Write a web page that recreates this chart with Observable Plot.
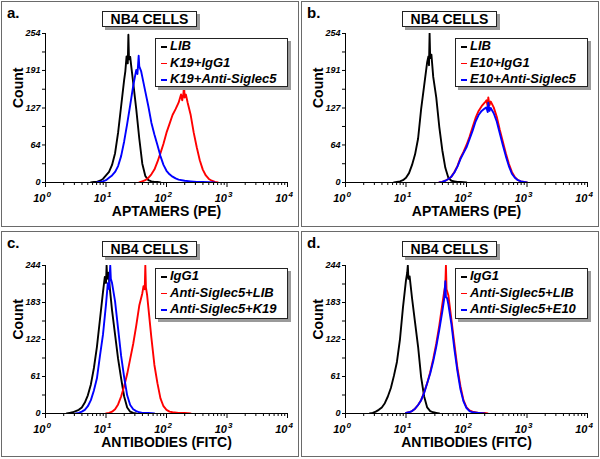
<!DOCTYPE html>
<html><head><meta charset="utf-8">
<script src="https://cdn.jsdelivr.net/npm/d3@7"></script>
<script src="https://cdn.jsdelivr.net/npm/@observablehq/plot@0.6"></script>
<style>
body{margin:0;background:#fff;font-family:"Liberation Sans",Arial,sans-serif;}
#root{position:relative;width:600px;height:459px;overflow:hidden;background:#fff;}
.panel{position:absolute;width:296px;height:224px;border:1px solid #6a6a6a;}
.panel svg{position:absolute;left:0;top:0;}
.tag{position:absolute;left:5px;top:2px;font:bold 15px "Liberation Sans",Arial,sans-serif;color:#000;}
.title{position:absolute;left:100px;top:9px;width:93px;height:14px;border:1px solid #222;box-shadow:3px 3px 0 #9a9a9a;background:#fff;font:bold 14px "Liberation Sans",Arial,sans-serif;text-align:center;line-height:15px;}
.legend{position:absolute;left:153px;top:36px;width:131px;height:47px;border:1px solid #222;box-shadow:3px 3px 0 #9a9a9a;background:#fff;}
.legend .row{position:relative;height:16.5px;line-height:16.5px;font:italic bold 13px "Liberation Sans",Arial,sans-serif;white-space:nowrap;padding-left:14px;}
.legend .row:first-child{margin-top:-1px;}
.legend .m{position:absolute;left:5px;top:8px;width:6px;height:1.5px;}
</style>
</head><body>
<div id="root"></div>
<script>
// ---- Data: [log10(fluorescence intensity), event count] ----
// Panel a (APTAMERS PE)
const aLIB = [[0.75,0],[0.80,1],[0.85,1],[0.90,3],[0.95,6],[1.00,12],[1.05,18],[1.10,30],[1.15,50],[1.20,85],[1.25,130],[1.30,175],[1.32,190],[1.34,215],[1.36,203],[1.37,252],[1.38,210],[1.40,214],[1.42,196],[1.45,170],[1.50,125],[1.55,75],[1.60,32],[1.65,11],[1.70,4],[1.75,2],[1.80,1],[1.85,1],[1.90,0]];
const aK19IgG1 = [[1.55,0],[1.60,2],[1.65,4],[1.70,8],[1.75,14],[1.80,22],[1.85,35],[1.90,50],[1.95,66],[2.00,85],[2.05,100],[2.10,115],[2.15,125],[2.20,136],[2.24,150],[2.26,140],[2.28,152],[2.29,166],[2.30,145],[2.32,150],[2.35,136],[2.40,115],[2.45,85],[2.50,60],[2.55,38],[2.60,22],[2.65,12],[2.70,6],[2.75,3],[2.80,1],[2.85,0]];
const aK19Siglec5 = [[0.85,0],[0.90,1],[0.95,2],[1.00,4],[1.05,8],[1.10,12],[1.15,18],[1.20,28],[1.25,45],[1.30,70],[1.35,100],[1.40,132],[1.45,165],[1.50,192],[1.52,185],[1.54,216],[1.55,198],[1.58,190],[1.60,180],[1.65,155],[1.70,130],[1.75,102],[1.80,82],[1.85,64],[1.90,45],[1.95,30],[2.00,20],[2.05,14],[2.10,10],[2.15,7],[2.20,5],[2.30,3],[2.40,2],[2.50,1],[2.60,1],[2.80,0]];
// Panel b (APTAMERS PE)
const bLIB = [[0.80,0],[0.85,1],[0.90,2],[0.95,4],[1.00,8],[1.05,16],[1.10,30],[1.15,48],[1.20,75],[1.25,125],[1.30,165],[1.35,205],[1.37,215],[1.38,200],[1.39,254],[1.40,212],[1.42,218],[1.45,180],[1.50,145],[1.55,95],[1.60,55],[1.65,25],[1.70,8],[1.75,3],[1.80,2],[1.85,1],[1.90,1],[2.00,0]];
const bE10IgG1 = [[1.55,0],[1.60,1],[1.65,3],[1.70,6],[1.75,10],[1.80,18],[1.85,28],[1.90,42],[1.95,52],[2.00,64],[2.05,78],[2.10,94],[2.15,110],[2.20,122],[2.25,130],[2.30,136],[2.33,140],[2.35,130],[2.36,145],[2.38,132],[2.40,138],[2.45,128],[2.50,112],[2.55,90],[2.60,70],[2.65,50],[2.70,32],[2.75,18],[2.80,9],[2.85,4],[2.90,2],[2.95,1],[3.00,0]];
const bE10Siglec5 = [[1.55,0],[1.60,1],[1.65,3],[1.70,6],[1.75,10],[1.80,17],[1.85,27],[1.90,40],[1.95,50],[2.00,60],[2.05,74],[2.10,88],[2.15,104],[2.20,115],[2.25,122],[2.30,126],[2.33,128],[2.35,120],[2.36,136],[2.38,122],[2.40,127],[2.45,118],[2.50,104],[2.55,84],[2.60,64],[2.65,45],[2.70,28],[2.75,15],[2.80,8],[2.85,4],[2.90,2],[2.95,1],[3.00,0]];
// Panel c (ANTIBODIES FITC)
const cIgG1 = [[0.35,0],[0.40,1],[0.45,2],[0.50,4],[0.55,6],[0.60,10],[0.65,18],[0.70,30],[0.75,48],[0.80,75],[0.85,110],[0.90,155],[0.95,200],[0.98,225],[1.00,215],[1.01,244],[1.02,222],[1.04,232],[1.06,210],[1.10,170],[1.15,130],[1.20,90],[1.25,58],[1.30,28],[1.35,10],[1.40,3],[1.45,1],[1.50,0]];
const cSiglec5LIB = [[1.00,0],[1.05,1],[1.10,3],[1.15,7],[1.20,15],[1.25,28],[1.30,45],[1.35,65],[1.40,90],[1.45,115],[1.50,145],[1.55,178],[1.60,198],[1.62,210],[1.64,205],[1.65,244],[1.66,208],[1.68,195],[1.70,175],[1.75,125],[1.80,80],[1.85,50],[1.90,25],[1.95,12],[2.00,6],[2.05,3],[2.10,2],[2.20,1],[2.30,1],[2.40,0]];
const cSiglec5K19 = [[0.50,0],[0.55,1],[0.60,3],[0.65,6],[0.70,12],[0.75,22],[0.80,38],[0.85,58],[0.90,95],[0.95,130],[1.00,180],[1.03,215],[1.05,205],[1.07,244],[1.08,222],[1.10,215],[1.15,185],[1.20,140],[1.25,95],[1.30,60],[1.35,30],[1.40,14],[1.45,7],[1.50,4],[1.55,2],[1.60,1],[1.70,1],[1.80,0]];
// Panel d (ANTIBODIES FITC)
const dIgG1 = [[0.40,0],[0.45,1],[0.50,3],[0.55,6],[0.60,10],[0.65,17],[0.70,28],[0.75,42],[0.80,62],[0.85,85],[0.90,122],[0.95,175],[1.00,220],[1.02,232],[1.03,244],[1.04,222],[1.06,226],[1.10,190],[1.15,150],[1.20,110],[1.25,60],[1.30,28],[1.35,10],[1.40,4],[1.45,2],[1.50,1],[1.55,0]];
const dSiglec5LIB = [[1.00,1],[1.05,2],[1.10,4],[1.15,8],[1.20,14],[1.25,22],[1.30,35],[1.35,50],[1.40,68],[1.45,90],[1.50,115],[1.55,145],[1.60,180],[1.63,200],[1.65,212],[1.66,244],[1.67,205],[1.70,195],[1.75,155],[1.80,115],[1.85,75],[1.90,45],[1.95,22],[2.00,10],[2.05,5],[2.10,3],[2.20,1],[2.30,1],[2.35,0]];
const dSiglec5E10 = [[1.00,1],[1.05,2],[1.10,4],[1.15,8],[1.20,14],[1.25,22],[1.30,34],[1.35,50],[1.40,66],[1.45,86],[1.50,110],[1.55,138],[1.60,168],[1.63,188],[1.65,218],[1.66,192],[1.68,190],[1.70,180],[1.75,148],[1.80,106],[1.85,70],[1.90,40],[1.95,20],[2.00,9],[2.05,4],[2.10,2],[2.20,1],[2.30,0]];

// Labels and ticks
const panelTags = ["a.", "b.", "c.", "d."];
const panelTitle = "NB4 CELLS";
const xLabels = ["APTAMERS (PE)", "APTAMERS (PE)", "ANTIBODIES (FITC)", "ANTIBODIES (FITC)"];
const yLabel = "Count";
const yTicksAB = [0, 64, 127, 191, 254];
const yTicksCD = [0, 61, 122, 183, 244];
const xExponents = [0, 1, 2, 3, 4];
const legendA = ["LIB", "K19+IgG1", "K19+Anti-Siglec5"];
const legendB = ["LIB", "E10+IgG1", "E10+Anti-Siglec5"];
const legendC = ["IgG1", "Anti-Siglec5+LIB", "Anti-Siglec5+K19"];
const legendD = ["IgG1", "Anti-Siglec5+LIB", "Anti-Siglec5+E10"];
const seriesColors = ["#000000", "#ff0000", "#0000ff"];

const panels = [
  {left: 1, top: 1, mt: 31, mb: 44, yTicks: yTicksAB, series: [aLIB, aK19IgG1, aK19Siglec5], legend: legendA},
  {left: 301, top: 1, mt: 31, mb: 44, yTicks: yTicksAB, series: [bLIB, bE10IgG1, bE10Siglec5], legend: legendB},
  {left: 1, top: 231, mt: 33, mb: 43, yTicks: yTicksCD, series: [cIgG1, cSiglec5LIB, cSiglec5K19], legend: legendC},
  {left: 301, top: 231, mt: 33, mb: 43, yTicks: yTicksCD, series: [dIgG1, dSiglec5LIB, dSiglec5E10], legend: legendD}
];

const decades = xExponents.map(e => 10 ** e);
const xMinor = xExponents.slice(0, -1).flatMap(e => [2,3,4,5,6,7,8,9].map(m => m * 10 ** e));
const FONT = '"Liberation Sans", Arial, sans-serif';
const root = document.getElementById("root");

panels.forEach((p, i) => {
  const yMax = p.yTicks[p.yTicks.length - 1];
  const yMinor = p.yTicks.slice(0, -1).map((t, k) => (t + p.yTicks[k + 1]) / 2);
  const div = document.createElement("div");
  div.className = "panel";
  div.style.left = p.left + "px";
  div.style.top = p.top + "px";
  const marks = [];
  p.series.forEach((s, k) => {
    marks.push(Plot.line(s, {x: d => 10 ** d[0], y: d => d[1], stroke: seriesColors[k], strokeWidth: 1.9, clip: true}));
  });
  marks.push(
    Plot.ruleX([1], {y1: () => 0, y2: () => yMax, stroke: "#000", strokeWidth: 1}),
    Plot.ruleY([0], {stroke: "#000", strokeWidth: 1}),
    Plot.axisY(p.yTicks, {tickSize: 3, tickPadding: 2, fontSize: 9, fontWeight: "bold", fontStyle: "italic", label: null}),
    Plot.axisY(yMinor, {tickSize: 3, tickFormat: () => "", label: null}),
    Plot.axisX(decades, {tickSize: 5, tickFormat: () => "", label: null}),
    Plot.axisX(xMinor, {tickSize: 3, tickFormat: () => "", label: null}),
    Plot.text(xExponents, {x: e => 10 ** e, y: () => 0, text: () => "10", textAnchor: "end", lineAnchor: "bottom", dy: 19, fontSize: 11, fontWeight: "bold", fontStyle: "italic"}),
    Plot.text(xExponents, {x: e => 10 ** e, y: () => 0, text: e => String(e), textAnchor: "start", lineAnchor: "bottom", dx: 1, dy: 14, fontSize: 8, fontWeight: "bold", fontStyle: "italic"}),
    Plot.text([xLabels[i]], {frameAnchor: "bottom", lineAnchor: "bottom", dy: 33, fontSize: 14, fontWeight: "bold"}),
    Plot.text([yLabel], {frameAnchor: "left", rotate: -90, dx: -27, fontSize: 14, fontWeight: "bold"})
  );
  const svg = Plot.plot({
    width: 296, height: 224,
    marginLeft: 43, marginRight: 11, marginTop: p.mt, marginBottom: p.mb,
    x: {type: "log", domain: [1, 1e4]},
    y: {domain: [0, yMax]},
    style: {fontFamily: FONT, background: "transparent", color: "#000", overflow: "visible"},
    marks
  });
  div.appendChild(svg);

  const tag = document.createElement("div");
  tag.className = "tag";
  tag.textContent = panelTags[i];
  div.appendChild(tag);

  const title = document.createElement("div");
  title.className = "title";
  title.textContent = panelTitle;
  div.appendChild(title);

  const leg = document.createElement("div");
  leg.className = "legend";
  if (i >= 2) leg.style.height = "49px";
  p.legend.forEach((name, k) => {
    const row = document.createElement("div");
    row.className = "row";
    const m = document.createElement("span");
    m.className = "m";
    m.style.background = seriesColors[k];
    row.appendChild(m);
    row.appendChild(document.createTextNode(name));
    leg.appendChild(row);
  });
  div.appendChild(leg);

  root.appendChild(div);
});
</script>
</body></html>
